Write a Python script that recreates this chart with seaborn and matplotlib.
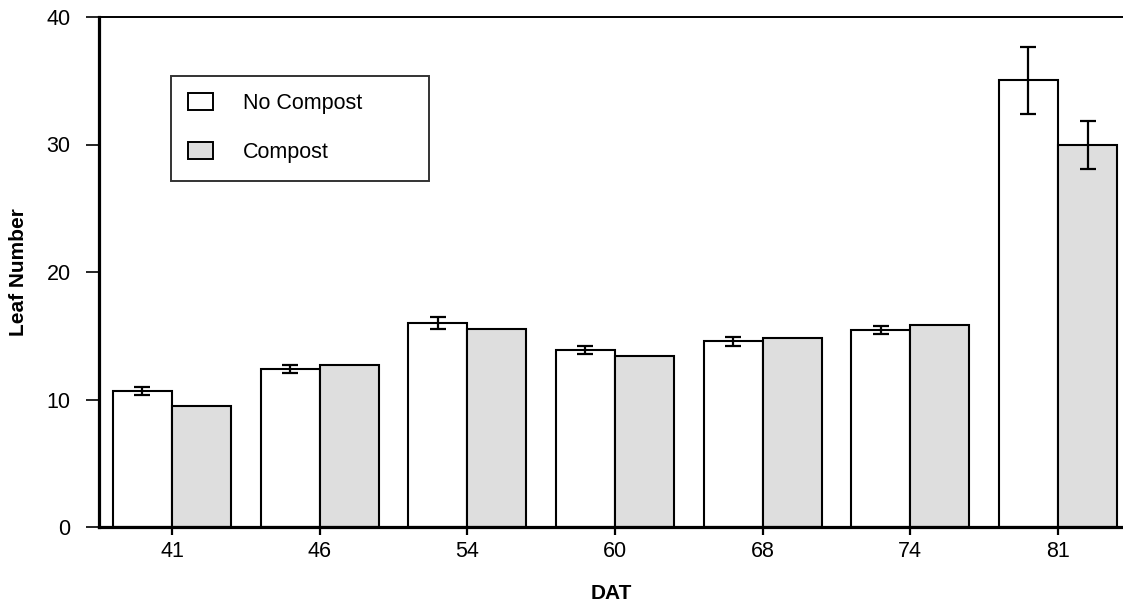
import matplotlib
matplotlib.use("Agg")
import matplotlib.pyplot as plt
import numpy as np
import pandas as pd
import seaborn as sns

# days after transplant
dat = ["41", "46", "54", "60", "68", "74", "81"]
no_compost = [10.67, 12.39, 16.0, 13.86, 14.56, 15.43, 35.03]
compost = [9.5, 12.7, 15.55, 13.39, 14.85, 15.87, 29.98]
no_compost_err = [0.3, 0.3, 0.45, 0.3, 0.37, 0.3, 2.6]
compost_err = [np.nan, np.nan, np.nan, np.nan, np.nan, np.nan, 1.9]
groups = ["No Compost", "Compost"]
colors = ["white", "#dedede"]

sns.set_style("ticks")
plt.rcParams['font.family'] = ['Liberation Sans', 'DejaVu Sans']
plt.rcParams.update({"text.color": "black", "axes.labelcolor": "black",
                     "xtick.color": "black", "ytick.color": "black",
                     "axes.edgecolor": "black"})

df = pd.DataFrame({"DAT": dat * 2,
                   "Leaf": no_compost + compost,
                   "Treatment": [groups[0]] * len(dat) + [groups[1]] * len(dat)})

fig = plt.figure(figsize=(11.23, 6.07), dpi=100)
ax = fig.add_axes([99 / 1123, 80 / 607, 1 - 99 / 1123, 510 / 607])

sns.barplot(data=df, x="DAT", y="Leaf", hue="Treatment", hue_order=groups,
            palette=colors, errorbar=None, width=0.8, edgecolor="black",
            linewidth=1.5, saturation=1, ax=ax, zorder=2)

# error bars at the centres of the bars seaborn drew
n = len(dat)
bars = ax.patches[:2 * n]
for i, errs in enumerate([no_compost_err, compost_err]):
    vals = [no_compost, compost][i]
    xs = [p.get_x() + p.get_width() / 2 for p in bars[i * n:(i + 1) * n]]
    ax.errorbar(xs, vals, yerr=errs, fmt="none", ecolor="black",
                elinewidth=1.6, capsize=6, capthick=1.6, zorder=3)

ax.set_ylim(0, 40)
ax.set_xlim(-0.494, 6.44)
ax.set_yticks([0, 10, 20, 30, 40])
ax.set_xlabel("DAT", fontsize=15, fontweight="bold", labelpad=16)
ax.set_ylabel("Leaf Number", fontsize=15, fontweight="bold", labelpad=13)
ax.tick_params(axis="y", direction="out", length=9.4, width=1.2, labelsize=15.5, pad=11)
ax.tick_params(axis="x", direction="out", length=6, width=1.6, labelsize=15.5, pad=4)

ax.spines["left"].set_linewidth(2.3)
ax.spines["bottom"].set_linewidth(2.3)
ax.spines["top"].set_visible(True)
ax.spines["top"].set_linewidth(1.4)
ax.spines["right"].set_visible(False)

leg = ax.legend(loc="upper left", bbox_to_anchor=(72 / 1024, 0.5, 258 / 1024, 0.3843),
                mode="expand", frameon=True, fancybox=False, edgecolor="black",
                fontsize=15.5, handlelength=1.15, handleheight=0.85,
                handletextpad=1.4, labelspacing=1.3, borderpad=0.8,
                borderaxespad=0, title=None)
leg.get_frame().set_linewidth(1.4)
for h in leg.legend_handles:
    h.set_edgecolor("black")
    h.set_linewidth(1.4)

fig.savefig("out.png", dpi=100)
